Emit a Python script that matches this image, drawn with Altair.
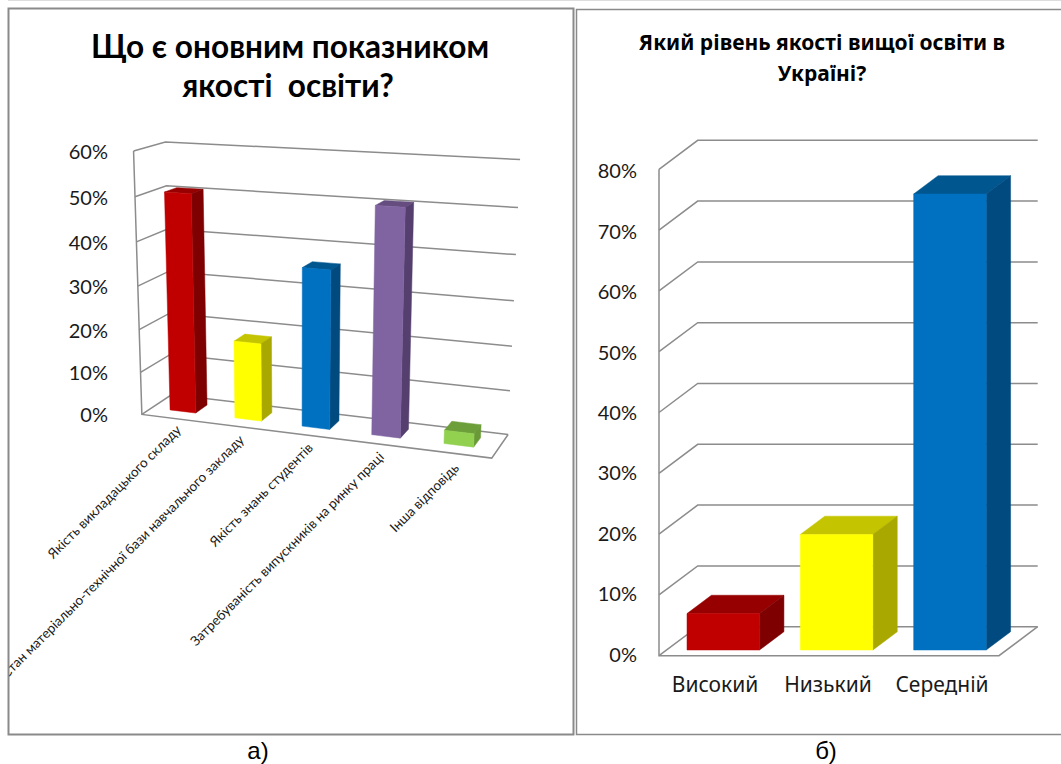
import altair as alt
import numpy as np
import pandas as pd

# ---- survey results -------------------------------------------------------
left_title = ["Що є оновним показником", "якості\u00a0 освіти?"]
left_categories = [
    "Якість викладацького складу",
    "Стан матеріально-технічної бази навчального закладу",
    "Якість знань студентів",
    "Затребуваність випускників на ринку праці",
    "Інша відповідь",
]
left_values = [50.5, 18, 36, 50.5, 3]
left_ticks = [0, 10, 20, 30, 40, 50, 60]

right_title = ["Який рівень якості вищої освіти в", "Україні?"]
right_categories = ["Високий", "Низький", "Середній"]
right_values = [6, 19, 75]
right_ticks = [0, 10, 20, 30, 40, 50, 60, 70, 80]

# front, side and top shades of each bar
left_shades = [
    ("#C00000", "#7F0000", "#960000"),
    ("#FFFF00", "#A8A800", "#C4C400"),
    ("#0070C0", "#004A80", "#00568F"),
    ("#8064A2", "#553F6E", "#654D80"),
    ("#92D050", "#6A9A38", "#6C9E3A"),
]
right_shades = left_shades[:3]

GRID = "#8C8C8C"
INK = "#1A1A1A"
SANS = "Lato, Noto Sans, sans-serif"


# ---- projections of the two chart boxes -----------------------------------
def fit_camera(samples):
    """Least-squares 3D-to-screen projection from (t, v, d) -> (px, py) pairs."""
    a, b = [], []
    for (t, v, d), (px, py) in samples:
        a.append([t, v, d, 1, 0, 0, 0, 0, -px * t, -px * v, -px * d])
        b.append(px)
        a.append([0, 0, 0, 0, t, v, d, 1, -py * t, -py * v, -py * d])
        b.append(py)
    p = np.linalg.lstsq(np.array(a, float), np.array(b, float), rcond=None)[0]
    m = np.append(p, 1.0).reshape(3, 4)

    def project(t, v, d):
        h = m @ np.array([t, v, d, 1.0])
        return float(h[0] / h[2]), float(h[1] / h[2])

    return project


left_front = [(142.3, 413.3), (141.7, 371.7), (140, 329.3), (138.3, 286), (136, 241.7), (134.3, 196.7), (131.7, 151.7)]
left_back = [(171, 395), (169.5, 355.7), (169, 314), (168.5, 271.7), (168, 228.7), (167.5, 185), (166.7, 141.7)]
left_end = [(508.3, 433.3), (510, 390), (512, 346), (513.7, 300.7), (516, 254.3), (518, 207.7), (520, 160)]

samples = [((1, 0, 0), (491.7, 460))]
for i, tick in enumerate(left_ticks):
    samples.append(((0, tick, 0), left_front[i]))
    samples.append(((0, tick, 1), left_back[i]))
    samples.append(((1, tick, 1), left_end[i]))
left_project = fit_camera(samples)


def right_project(t, v, d):
    # oblique view: depth shifts a point up and to the right
    return 659 + 340 * t + 38.7 * d, 655.7 - 6.08 * v - 29 * d


# ---- row builders ---------------------------------------------------------
def convex_rows(face, fill, vertices):
    """Describe a convex polygon as x / y / y2 rows of an area mark."""
    rows = []
    n = len(vertices)
    for x in sorted({round(p[0], 3) for p in vertices}):
        ys = []
        for k in range(n):
            (x0, y0), (x1, y1) = vertices[k], vertices[(k + 1) % n]
            lo, hi = min(x0, x1), max(x0, x1)
            if lo - 0.002 <= x <= hi + 0.002:
                if abs(x1 - x0) < 1e-6:
                    ys += [y0, y1]
                else:
                    ys.append(y0 + (y1 - y0) * (min(max(x, lo), hi) - x0) / (x1 - x0))
        rows.append({"face": face, "fill": fill, "x": x, "y": min(ys), "y2": max(ys)})
    return rows


def bar_rows(name, project, values, shades, width, d0, d1, shift=0.0):
    rows = []
    count = len(values)
    for i, (value, shade) in enumerate(zip(values, shades)):
        c = (i + 0.5) / count + shift
        t0, t1 = c - width / 2, c + width / 2
        top = [project(t0, value, d0), project(t1, value, d0), project(t1, value, d1), project(t0, value, d1)]
        side = [project(t1, 0, d0), project(t1, value, d0), project(t1, value, d1), project(t1, 0, d1)]
        front = [project(t0, 0, d0), project(t1, 0, d0), project(t1, value, d0), project(t0, value, d0)]
        rows += convex_rows(f"{name}{i}-top", shade[2], top)
        rows += convex_rows(f"{name}{i}-side", shade[1], side)
        rows += convex_rows(f"{name}{i}-front", shade[0], front)
    return rows


def wall_rows(name, project, ticks):
    rows = []
    for tick in ticks:
        path = [project(0, tick, 0), project(0, tick, 1), project(1, tick, 1)]
        rows += [{"path": f"{name}{tick}", "i": i, "x": p[0], "y": p[1]} for i, p in enumerate(path)]
    axis = [project(0, ticks[-1], 0), project(0, 0, 0), project(1, 0, 0), project(1, 0, 1)]
    rows += [{"path": f"{name}axis", "i": i, "x": p[0], "y": p[1]} for i, p in enumerate(axis)]
    return rows


# ---- text tables ----------------------------------------------------------
left_label_ends = [(179, 428), (242, 438), (311, 446), (382, 455), (457, 466)]
right_label_centres = [715, 828, 942]

rotated = pd.DataFrame(
    [{"x": p[0], "y": p[1], "text": s} for p, s in zip(left_label_ends, left_categories)]
)
flat = pd.DataFrame(
    [{"x": x, "y": 686, "text": s} for x, s in zip(right_label_centres, right_categories)]
)
ticks_left = pd.DataFrame(
    [{"x": 108, "y": left_project(0, t, 0)[1] + 2, "text": f"{t}%"} for t in left_ticks]
)
ticks_right = pd.DataFrame(
    [{"x": 637, "y": 655.5 - 6.04 * t, "text": f"{t}%"} for t in right_ticks]
)

faces = pd.DataFrame(
    bar_rows("a", left_project, left_values, left_shades, 0.08, 0.33, 0.73, shift=-0.003)
    + bar_rows("b", right_project, right_values, right_shades, 72.5 / 340, 0.196, 0.827)
)
walls = pd.DataFrame(wall_rows("a", left_project, left_ticks) + wall_rows("b", right_project, right_ticks))

x_px = alt.X("x:Q", scale=alt.Scale(domain=[0, 1061], range=[0, 1061], nice=False, zero=False), axis=None)
y_px = alt.Y("y:Q", scale=alt.Scale(domain=[0, 764], range=[0, 764], nice=False, zero=False), axis=None)
x2_px = alt.X2("x2:Q")
y2_px = alt.Y2("y2:Q")


def text_layer(rows, **style):
    return alt.Chart(pd.DataFrame(rows) if isinstance(rows, list) else rows).mark_text(**style).encode(
        x=x_px, y=y_px, text="text:N"
    )


wall_layer = alt.Chart(walls).mark_line(color=GRID, strokeWidth=1.5, strokeJoin="miter").encode(
    x=x_px, y=y_px, detail="path:N", order="i:Q"
)
face_layer = alt.Chart(faces).mark_area(strokeWidth=0.5, interpolate="linear").encode(
    x=x_px,
    y=y_px,
    y2=y2_px,
    detail="face:N",
    fill=alt.Fill("fill:N", scale=None),
    stroke=alt.Stroke("fill:N", scale=None),
)

# the long rotated label runs past the panel edge, so the margin is painted over it
margin = alt.Chart(pd.DataFrame([{"x": 0, "x2": 8, "y": 0, "y2": 764}])).mark_rect(color="white").encode(
    x=x_px, x2=x2_px, y=y_px, y2=y2_px
)
frames = alt.Chart(
    pd.DataFrame(
        [
            {"x": 8.5, "x2": 573.5, "y": 8.5, "y2": 734.5, "w": 2},
            {"x": 576.5, "x2": 1064, "y": 9.5, "y2": 734.5, "w": 1.5},
        ]
    )
).mark_rect(fill="transparent", stroke="#8A8A8A").encode(
    x=x_px, x2=x2_px, y=y_px, y2=y2_px, strokeWidth=alt.StrokeWidth("w:Q", scale=None)
)

layers = [
    wall_layer,
    face_layer,
    text_layer(rotated, font=SANS, fontSize=13.5, angle=315, align="right", baseline="middle", color=INK),
    margin,
    frames,
    text_layer(ticks_left, font=SANS, fontSize=20, align="right", baseline="middle", color=INK),
    text_layer(ticks_right, font=SANS, fontSize=20, align="right", baseline="middle", color=INK),
    text_layer(flat, font="Noto Sans", fontSize=21, align="center", baseline="middle", color=INK),
    text_layer(
        [{"x": 290, "y": 49, "text": left_title[0]}, {"x": 288, "y": 88, "text": left_title[1]}],
        font=SANS, fontSize=31.6, fontWeight="bold", align="center", baseline="middle", color="#000000",
    ),
    text_layer(
        [{"x": 822, "y": 44, "text": right_title[0]}, {"x": 822, "y": 75, "text": right_title[1]}],
        font="Noto Sans", fontSize=21, fontWeight="bold", align="center", baseline="middle", color="#000000",
    ),
    text_layer(
        [{"x": 258, "y": 752, "text": "а)"}, {"x": 826, "y": 752, "text": "б)"}],
        font="Liberation Sans", fontSize=24, align="center", baseline="middle", color="#000000",
    ),
]

chart = (
    alt.layer(*layers)
    .properties(width=1061, height=764, padding=0, autosize=alt.AutoSizeParams(type="none"))
    .configure_view(stroke=None)
    .configure(background="white")
)

chart.save("out.html", embed_options={"renderer": "svg", "actions": False})
